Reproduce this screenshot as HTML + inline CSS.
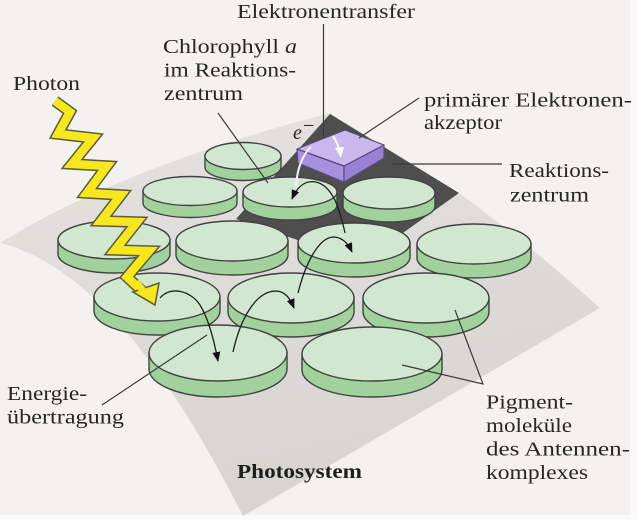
<!DOCTYPE html>
<html>
<head>
<meta charset="utf-8">
<style>
html,body{margin:0;padding:0;background:#f4f2ee;}
svg{display:block}
.t{font-family:"Liberation Serif","DejaVu Serif",serif;font-size:20px;fill:#262626;}
.b{font-weight:bold;fill:#1e1e1e;}
.ld{stroke:#3a3a3a;stroke-width:1.2;fill:none;}
.ar{stroke:#1e1e1e;stroke-width:1.3;fill:none;}
.rim{fill:#a1d29d;stroke:#424242;stroke-width:1.4;}
.face{fill:#d2e7cf;stroke:#424242;stroke-width:1.4;}
</style>
</head>
<body>
<svg width="637" height="520" viewBox="0 0 637 520" xmlns="http://www.w3.org/2000/svg">
<defs>
<linearGradient id="mem" x1="0" y1="0" x2="0.3" y2="1">
<stop offset="0" stop-color="#e5e3df"/>
<stop offset="1" stop-color="#d7d5d0"/>
</linearGradient>
<marker id="ah" viewBox="0 0 10 8" refX="9" refY="4" markerWidth="10" markerHeight="8" markerUnits="userSpaceOnUse" orient="auto">
<path d="M0,0 L10,4 L0,8 z" fill="#111"/>
</marker>
</defs>

<rect x="0" y="0" width="637" height="520" fill="#f4f2ee"/>
<rect x="630" y="0" width="7" height="520" fill="#f9f8f6"/>
<rect x="0" y="515" width="637" height="5" fill="#fbfbfa"/>

<!-- membrane -->
<path d="M0,243 Q120,168 330,113 L459,193 Q530,245 600,308 L243,516 Q120,272 0,243 Z" fill="url(#mem)"/>

<!-- reaction center dark square -->
<path d="M236,219 L330,114 L459,193 L362,262 Z" fill="#4e4e4e"/>

<!-- D1 -->
<path class="rim" d="M205,156 L205,167 A38,13.5 0 0 0 281,167 L281,156 Z"/>
<ellipse class="face" cx="243" cy="156" rx="38" ry="13.5"/>

<!-- purple box -->
<g stroke="#5a4a7c" stroke-width="1.2" stroke-linejoin="round">
<path d="M297,149 L344,166 L344,182 L298,163 Z" fill="#a690df"/>
<path d="M344,166 L384,145 L384,158 L344,182 Z" fill="#9781d4"/>
<path d="M297,149 L345,130 L384,145 L344,166 Z" fill="#c8b8ee"/>
</g>

<!-- row 2 -->
<path class="rim" d="M143,191 L143,203 A47,14.5 0 0 0 237,203 L237,191 Z"/>
<ellipse class="face" cx="190" cy="191" rx="47" ry="14.5"/>
<path class="rim" d="M243,192 L243,205 A47,15 0 0 0 337,205 L337,192 Z"/>
<ellipse class="face" cx="290" cy="192" rx="47" ry="15"/>
<path class="rim" d="M343,193 L343,206 A46,16 0 0 0 435,206 L435,193 Z"/>
<ellipse class="face" cx="389" cy="193" rx="46" ry="16"/>

<!-- row 3 -->
<path class="rim" d="M58,240 L58,254 A56,19 0 0 0 170,254 L170,240 Z"/>
<ellipse class="face" cx="114" cy="240" rx="56" ry="19"/>
<path class="rim" d="M176,241 L176,255 A56,20 0 0 0 288,255 L288,241 Z"/>
<ellipse class="face" cx="232" cy="241" rx="56" ry="20"/>
<path class="rim" d="M298,243 L298,257 A56,20 0 0 0 410,257 L410,243 Z"/>
<ellipse class="face" cx="354" cy="243" rx="56" ry="20"/>
<path class="rim" d="M417,244 L417,258 A57,20 0 0 0 531,258 L531,244 Z"/>
<ellipse class="face" cx="474" cy="244" rx="57" ry="20"/>

<!-- row 4 -->
<path class="rim" d="M94,297 L94,311 A63,24 0 0 0 220,311 L220,297 Z"/>
<ellipse class="face" cx="157" cy="297" rx="63" ry="24"/>
<path class="rim" d="M228,298 L228,312 A63,25 0 0 0 354,312 L354,298 Z"/>
<ellipse class="face" cx="291" cy="298" rx="63" ry="25"/>
<path class="rim" d="M363,298 L363,312 A63,25 0 0 0 489,312 L489,298 Z"/>
<ellipse class="face" cx="426" cy="298" rx="63" ry="25"/>

<!-- row 5 -->
<path class="rim" d="M149,353 L149,369 A69,28 0 0 0 287,369 L287,353 Z"/>
<ellipse class="face" cx="218" cy="353" rx="69" ry="28"/>
<path class="rim" d="M302,354 L302,370 A70,27 0 0 0 442,370 L442,354 Z"/>
<ellipse class="face" cx="372" cy="354" rx="70" ry="27"/>

<!-- lightning bolt -->
<g stroke-linejoin="miter" stroke-miterlimit="6" fill="none">
<polyline points="55,101 70,112 58,134 93,138 72,164 107,166 87,193 121,195 101,221 137,222 115,250 149,251 127,277 142,291" stroke="#5e5a3a" stroke-width="11.5"/>
<polyline points="55,101 70,112 58,134 93,138 72,164 107,166 87,193 121,195 101,221 137,222 115,250 149,251 127,277 142,291" stroke="#f6e71f" stroke-width="8.5"/>
</g>
<path d="M133,292 L159,283 L155,305 Z" fill="#f6e71f" stroke="#5e5a3a" stroke-width="1.5" stroke-linejoin="miter"/>
<path d="M136,282 L145,293" stroke="#f6e71f" stroke-width="7"/>

<!-- energy transfer arrows -->
<path class="ar" d="M160,298 C170,286 190,290 200,305 C208,318 214,340 218,361" marker-end="url(#ah)"/>
<path class="ar" d="M233,352 C240,320 255,292 275,291 C285,291 290,298 294,308" marker-end="url(#ah)"/>
<path class="ar" d="M298,293 C305,265 318,238 333,237 C342,237 348,243 352,252" marker-end="url(#ah)"/>
<path class="ar" d="M345,233 C340,210 333,186 316,182 C305,180 297,187 292,199" marker-end="url(#ah)"/>

<!-- electron transfer (white) -->
<path d="M296,186 C297,170 302,155 311,147" stroke="#f4f2f8" stroke-width="2" fill="none"/>
<path d="M333,136 Q337,142 339,149" stroke="#ffffff" stroke-width="2" fill="none"/>
<path d="M335,148 L344,147 L341,158 Z" fill="#ffffff"/>

<!-- leader lines -->
<line class="ld" x1="323.5" y1="24" x2="323.5" y2="138"/>
<line class="ld" x1="218" y1="113" x2="268" y2="183"/>
<line class="ld" x1="419" y1="98" x2="359" y2="138"/>
<line class="ld" x1="392" y1="164" x2="502" y2="164"/>
<line class="ld" x1="102" y1="405" x2="207" y2="335"/>
<polyline class="ld" points="455,310 483,384 402,365"/>

<!-- labels -->
<text class="t" x="237" y="18" textLength="178" lengthAdjust="spacingAndGlyphs">Elektronentransfer</text>
<text class="t" x="163" y="53" textLength="134" lengthAdjust="spacingAndGlyphs">Chlorophyll <tspan font-style="italic">a</tspan></text>
<text class="t" x="164" y="76.5" textLength="132" lengthAdjust="spacingAndGlyphs">im Reaktions-</text>
<text class="t" x="164" y="100" textLength="79" lengthAdjust="spacingAndGlyphs">zentrum</text>
<text class="t" x="13" y="90" textLength="67" lengthAdjust="spacingAndGlyphs">Photon</text>
<text class="t" x="424" y="106.5" textLength="208" lengthAdjust="spacingAndGlyphs">primärer Elektronen-</text>
<text class="t" x="424" y="129" textLength="78" lengthAdjust="spacingAndGlyphs">akzeptor</text>
<text class="t" x="509" y="177" textLength="100" lengthAdjust="spacingAndGlyphs">Reaktions-</text>
<text class="t" x="510" y="201.5" textLength="79" lengthAdjust="spacingAndGlyphs">zentrum</text>
<text class="t" x="7" y="400" textLength="80" lengthAdjust="spacingAndGlyphs">Energie-</text>
<text class="t" x="7" y="423.5" textLength="117" lengthAdjust="spacingAndGlyphs">übertragung</text>
<text class="t b" x="237" y="478" font-size="19" textLength="125" lengthAdjust="spacingAndGlyphs">Photosystem</text>
<text class="t" x="486" y="408.5" textLength="87" lengthAdjust="spacingAndGlyphs">Pigment-</text>
<text class="t" x="486" y="432" textLength="86" lengthAdjust="spacingAndGlyphs">moleküle</text>
<text class="t" x="486" y="455.5" textLength="144" lengthAdjust="spacingAndGlyphs">des Antennen-</text>
<text class="t" x="486" y="479" textLength="102" lengthAdjust="spacingAndGlyphs">komplexes</text>
<text class="t" x="293" y="139" font-size="16" font-style="italic">e</text>
<text class="t" x="303" y="132" font-size="12">−</text>
</svg>
</body>
</html>
